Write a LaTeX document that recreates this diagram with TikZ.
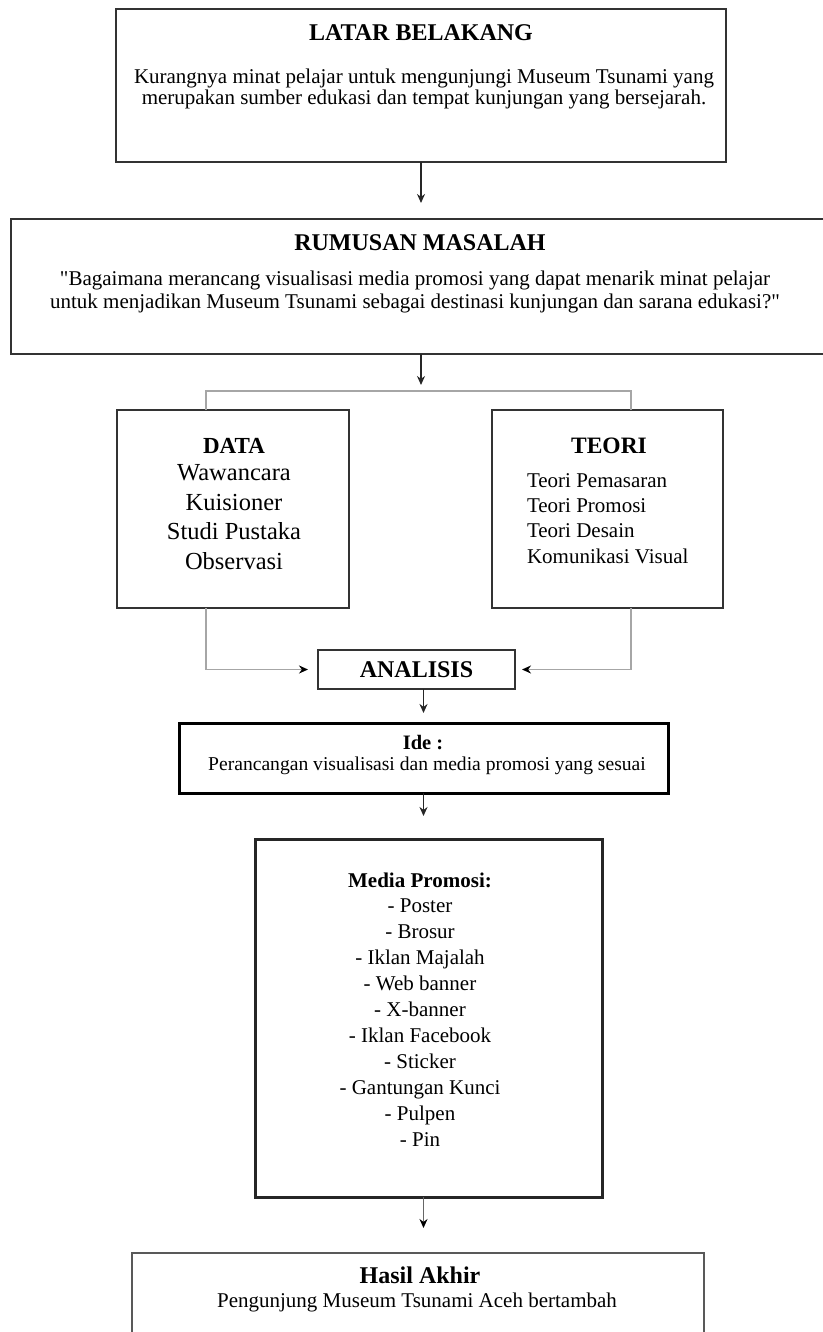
\documentclass[tikz,border=0pt]{standalone}
\usepackage{fontspec}
\setmainfont{Liberation Serif}[Ligatures=TeXOff]
\usetikzlibrary{arrows.meta}

\begin{document}
\begin{tikzpicture}[
    x=1pt, y=-1pt,
    every node/.style={inner sep=0pt, outer sep=0pt},
    kotak/.style={draw=black!80, line width=1.8pt, anchor=north west},
    tebal/.style={draw=black, line width=3pt, anchor=north west},
    judul/.style={anchor=base, font=\bfseries\fontsize{24}{28}\selectfont},
    isi/.style={anchor=base, align=center, font=\fontsize{21}{23}\selectfont},
    panah/.style={draw=black!85, line width=1.8pt, -{Stealth[length=9pt, width=8pt]}},
    garis/.style={draw=black!35, line width=1.8pt},
    samping/.style={garis, -{Stealth[length=9pt, width=8pt, color=black]}, shorten >=10pt}
]
\useasboundingbox (0,0) rectangle (822,1332);

\node[kotak, minimum width=610pt, minimum height=153pt] (latar) at (116,9) {};
\node[judul] (latarJudul) at (421,41) {LATAR BELAKANG};
\node[isi, font=\fontsize{21}{21}\selectfont] (latarIsi) at (424,105)
    {Kurangnya minat pelajar untuk mengunjungi Museum Tsunami yang\\
     merupakan sumber edukasi dan tempat kunjungan yang bersejarah.};

\node[kotak, minimum width=830pt, minimum height=135pt] (rumusan) at (11,219) {};
\node[judul] (rumusanJudul) at (420,251) {RUMUSAN MASALAH};
\node[isi] (rumusanIsi) at (415,308)
    {"Bagaimana merancang visualisasi media promosi yang dapat menarik minat pelajar\\
     untuk menjadikan Museum Tsunami sebagai destinasi kunjungan dan sarana edukasi?"};

\node[kotak, minimum width=232pt, minimum height=198pt] (data) at (117,410) {};
\node[judul, font=\bfseries\fontsize{23}{28}\selectfont] (dataJudul) at (234,453) {DATA};
\node[isi, font=\fontsize{24.5}{29.5}\selectfont] (dataIsi) at (234,569)
    {Wawancara\\ Kuisioner\\ Studi Pustaka\\ Observasi};

\node[kotak, minimum width=231pt, minimum height=198pt] (teori) at (492,410) {};
\node[judul, font=\bfseries\fontsize{23.5}{28}\selectfont] (teoriJudul) at (609,453) {TEORI};
\node[isi, anchor=base west, align=left, font=\fontsize{21}{25.3}\selectfont] (teoriIsi) at (527,563)
    {Teori Pemasaran\\ Teori Promosi\\ Teori Desain\\ Komunikasi Visual};

\node[kotak, minimum width=197pt, minimum height=39pt,
      font=\bfseries\fontsize{24}{28}\selectfont] (analisis) at (318,650) {ANALISIS};

\node[tebal, minimum width=489pt, minimum height=70pt] (ide) at (179,723) {};
\node[judul, font=\bfseries\fontsize{20.5}{24}\selectfont] (ideJudul) at (423,749) {Ide :};
\node[isi, font=\fontsize{19.6}{23}\selectfont] (ideIsi) at (427,770)
    {Perancangan visualisasi dan media promosi yang sesuai};

\node[tebal, draw=black!85, minimum width=347pt, minimum height=358pt] (media) at (255,839) {};
\node[isi, font=\fontsize{21}{25.9}\selectfont] (mediaIsi) at (420,1146)
    {\textbf{Media Promosi:}\\ - Poster\\ - Brosur\\ - Iklan Majalah\\ - Web banner\\
     - X-banner\\ - Iklan Facebook\\ - Sticker\\ - Gantungan Kunci\\ - Pulpen\\ - Pin};

\node[kotak, draw=black!65, minimum width=572pt, minimum height=130pt] (hasil) at (132,1253) {};
\node[judul] (hasilJudul) at (420,1283) {Hasil Akhir};
\node[isi] (hasilIsi) at (417,1307) {Pengunjung Museum Tsunami Aceh bertambah};

\coordinate (kiri) at (206,391);
\coordinate (kanan) at (631,391);

\draw[panah, shorten >=16pt] (latar.south) -- (latar.south |- rumusan.north);
\draw[panah, shorten >=6pt] (latar.south |- rumusan.south) -- (latar.south |- kiri);
\draw[garis] (kiri |- data.north) -- (kiri) -- (kanan) -- (kanan |- teori.north);
\draw[samping] (kiri |- data.south) |- (analisis.west);
\draw[samping, shorten >=7pt] (kanan |- teori.south) |- (analisis.east);
\draw[panah, shorten >=10pt] (analisis.south -| ide.south) -- (ide.north);
\draw[panah, shorten >=23pt] (ide.south) -- (ide.south |- media.north);
\draw[panah, draw=black!60, -{Stealth[length=9pt, width=8pt, color=black]}, shorten >=25pt]
    (ide.south |- media.south) -- (ide.south |- hasil.north);
\end{tikzpicture}
\end{document}
